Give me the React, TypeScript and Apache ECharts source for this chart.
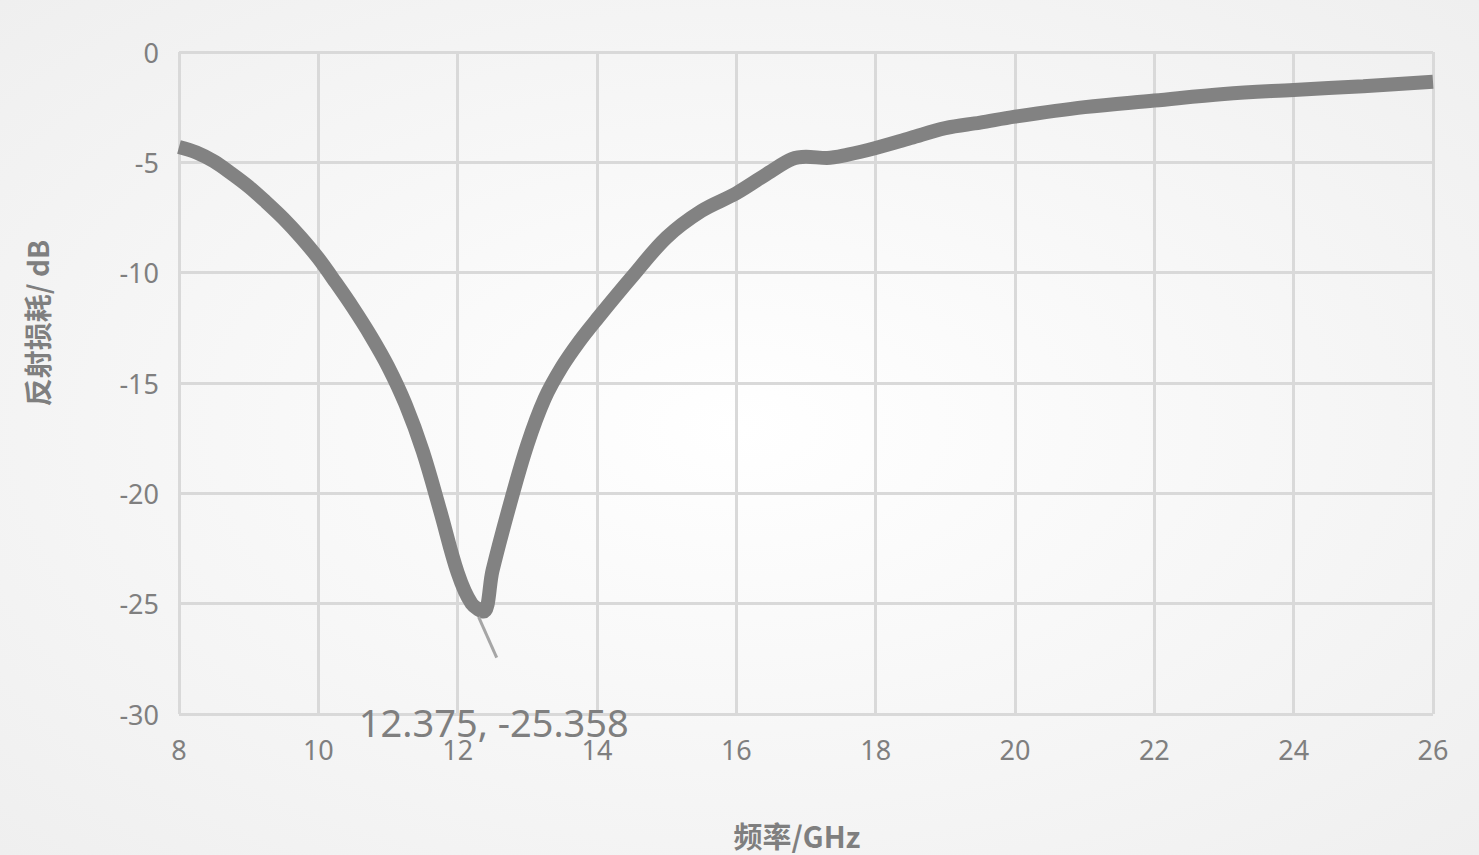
import { useEffect, useRef } from 'react'
import * as echarts from 'echarts'

// 频率 (GHz) 与 反射损耗 (dB)
const freq = [
  8.0, 8.25, 8.5, 8.75, 9.0, 9.25, 9.5, 9.75, 10.0, 10.25, 10.5, 10.75, 11.0, 11.25, 11.5, 11.75,
  12.0, 12.2, 12.375, 12.5, 12.75, 13.0, 13.25, 13.5, 13.75, 14.0, 14.5, 15.0, 15.5, 16.0, 16.5,
  16.8, 17.0, 17.3, 17.6, 18.0, 18.5, 19.0, 19.5, 20.0, 21.0, 22.0, 23.0, 24.0, 25.0, 26.0,
]
const loss = [
  -4.3, -4.55, -4.95, -5.5, -6.1, -6.8, -7.55, -8.4, -9.35, -10.45, -11.6, -12.85, -14.25, -15.95, -18.1, -20.8,
  -23.6, -25.0, -25.358, -23.5, -20.5, -17.8, -15.7, -14.25, -13.1, -12.1, -10.2, -8.4, -7.2, -6.4, -5.4,
  -4.85, -4.75, -4.8, -4.65, -4.35, -3.9, -3.45, -3.2, -2.93, -2.5, -2.2, -1.9, -1.72, -1.55, -1.35,
]
const minPoint = { x: 12.375, y: -25.358 }

const textColor = '#7f7f7f'
const gridColor = '#d9d9d9'
const numFont = '"Noto Sans", "Open Sans", sans-serif'
const cjkFont = '"Noto Sans CJK SC", sans-serif'

export default function App() {
  const chartRef = useRef<HTMLDivElement>(null)

  useEffect(() => {
    document.body.style.margin = '0'
    if (!chartRef.current) return
    const chart = echarts.init(chartRef.current, undefined, { renderer: 'svg' })

    const option: echarts.EChartsOption = {
      animation: false,
      backgroundColor: {
        type: 'radial',
        x: 0.5,
        y: 0.5,
        r: 0.75,
        colorStops: [
          { offset: 0, color: '#ffffff' },
          { offset: 1, color: '#eeeeee' },
        ],
      },
      grid: { left: 179, right: 46, top: 52, bottom: 141, containLabel: false, outerBoundsMode: 'none' } as any,
      graphic: [
        {
          type: 'text',
          x: 37,
          y: 323,
          rotation: Math.PI / 2,
          style: {
            text: '反射损耗/ dB',
            fill: textColor,
            font: `bold 28px ${cjkFont}`,
            align: 'center',
            verticalAlign: 'middle',
          },
        },
      ],
      xAxis: {
        type: 'value',
        min: 8,
        max: 26,
        interval: 2,
        name: '频率/GHz',
        nameLocation: 'middle',
        nameGap: 106,
        nameTextStyle: { color: textColor, fontSize: 29, fontWeight: 'bold', fontFamily: cjkFont, padding: [0, 18, 0, 0] },
        axisLine: { show: false },
        axisTick: { show: false },
        axisLabel: { color: textColor, fontSize: 27, fontFamily: numFont, margin: 22 },
        splitLine: { lineStyle: { color: gridColor, width: 3 } },
      },
      yAxis: {
        type: 'value',
        min: -30,
        max: 0,
        interval: 5,
        axisLine: { show: false },
        axisTick: { show: false },
        axisLabel: { color: textColor, fontSize: 27, fontFamily: numFont, margin: 20 },
        splitLine: { lineStyle: { color: gridColor, width: 3 } },
      },
      series: [
        {
          type: 'line',
          data: freq.map((f, i) => [f, loss[i]]),
          smooth: 0.35,
          symbol: 'none',
          lineStyle: { color: '#828282', width: 14 },
          markLine: {
            silent: true,
            symbol: 'none',
            lineStyle: { color: '#a6a6a6', width: 3, type: 'solid' },
            label: { show: false },
            data: [[{ coord: [12.3, -25.6] }, { coord: [12.56, -27.45] }]],
          },
          markPoint: {
            symbol: 'circle',
            symbolSize: 0,
            data: [{ coord: [minPoint.x, minPoint.y] }],
            label: {
              show: true,
              formatter: `${minPoint.x}, ${minPoint.y}`,
              color: textColor,
              fontSize: 38,
              fontFamily: numFont,
              offset: [10, 110],
            },
          },
        },
      ],
    }

    chart.setOption(option)
    return () => chart.dispose()
  }, [])

  return <div ref={chartRef} style={{ width: 1479, height: 855 }} />
}
